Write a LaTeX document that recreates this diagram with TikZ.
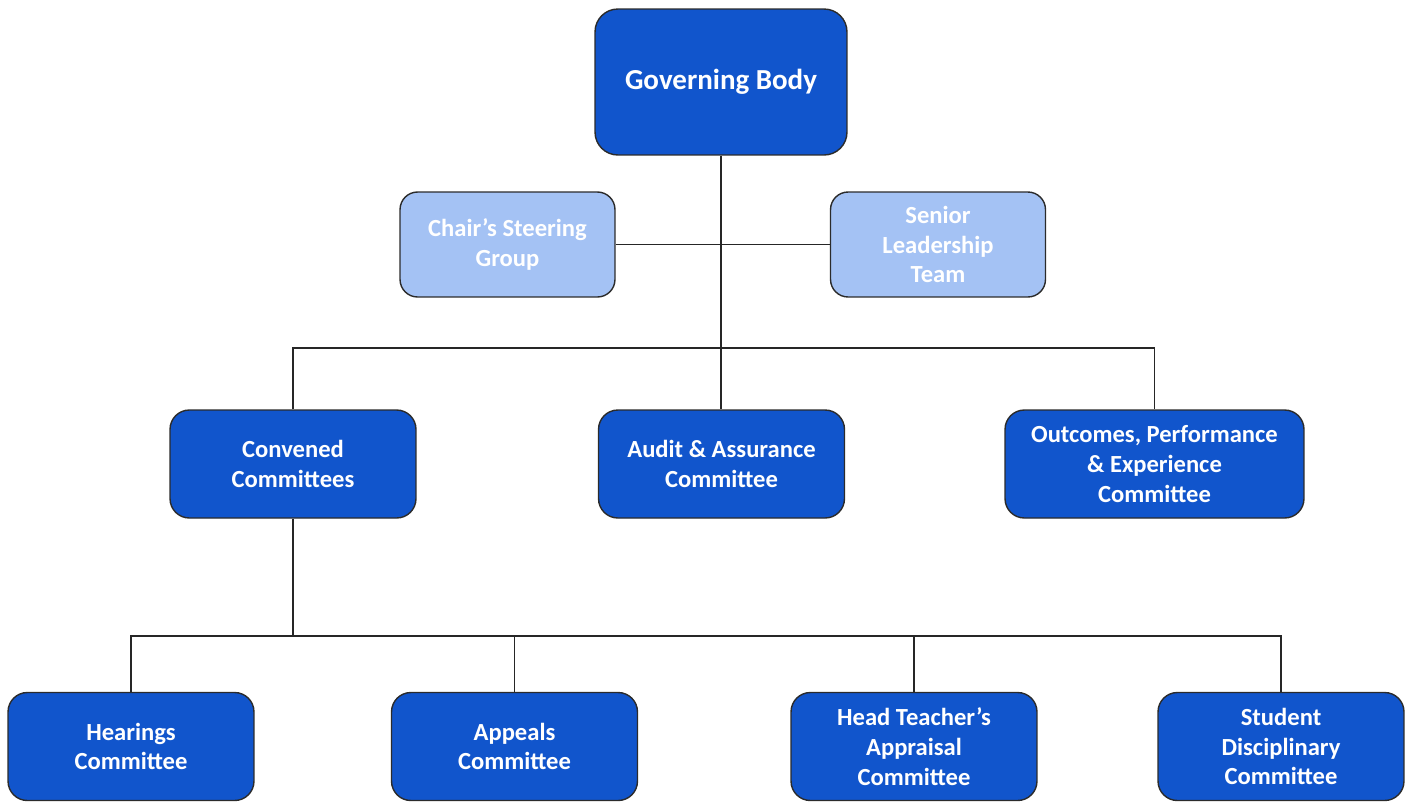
\documentclass[tikz,border=0pt]{standalone}
\usepackage{fontspec}
\setmainfont{Carlito}
\usepackage{tikz}

\definecolor{govblue}{HTML}{1155CC}
\definecolor{paleblue}{HTML}{A4C2F4}
\definecolor{edgegrey}{HTML}{2B2B2B}

\tikzset{
  unit/.style={draw=edgegrey, line width=0.8pt, rounded corners=11pt, fill=govblue,
    text=white, align=center, font=\fontsize{14}{17}\selectfont\bfseries,
    minimum width=4.92cm, minimum height=2.16cm, inner sep=2pt},
  advisory/.style={unit, fill=paleblue, minimum width=4.3cm, minimum height=2.1cm,
    rounded corners=10pt},
  link/.style={draw=black!85, line width=0.8pt}
}

\begin{document}
\begin{tikzpicture}[x=0.02cm, y=-0.02cm]
  \useasboundingbox (0,0) rectangle (1412,802);

  \node [unit, minimum width=5.04cm, minimum height=2.92cm, rounded corners=13pt,
         font=\fontsize{16.5}{20}\selectfont\bfseries] (gov) at (721,82) {Governing Body};
  \node [advisory] (chair) at (507.5,244.5) {Chair’s Steering\\Group};
  \node [advisory] (slt) at (938,244.5) {Senior\\Leadership\\Team};

  \node [unit] (conv) at (293,464) {Convened\\Committees};
  \node [unit] (audit) at (721.5,464) {Audit \& Assurance\\Committee};
  \node [unit, minimum width=5.98cm] (outc) at (1154.5,464) {Outcomes, Performance\\\& Experience\\Committee};

  \node [unit] (hear) at (131,746.5) {Hearings\\Committee};
  \node [unit] (appeal) at (514.5,746.5) {Appeals\\Committee};
  \node [unit] (headt) at (914,746.5) {Head Teacher’s\\Appraisal\\Committee};
  \node [unit] (stud) at (1281,746.5) {Student\\Disciplinary\\Committee};

  % upper tree
  \draw [link] (gov.south) -- (gov.south |- audit.north);
  \draw [link] (chair) -- (slt);
  \draw [link] (conv.north) -- (conv.north |- 0,348) -- (outc.north |- 0,348) -- (outc.north);

  % convened committees
  \draw [link] (conv.south) -- (conv.south |- 0,636);
  \draw [link] (hear.north) -- (hear.north |- 0,636) -- (stud.north |- 0,636) -- (stud.north);
  \foreach \sub in {appeal,headt}
    \draw [link] (\sub.north) -- (\sub.north |- 0,636);
\end{tikzpicture}
\end{document}
